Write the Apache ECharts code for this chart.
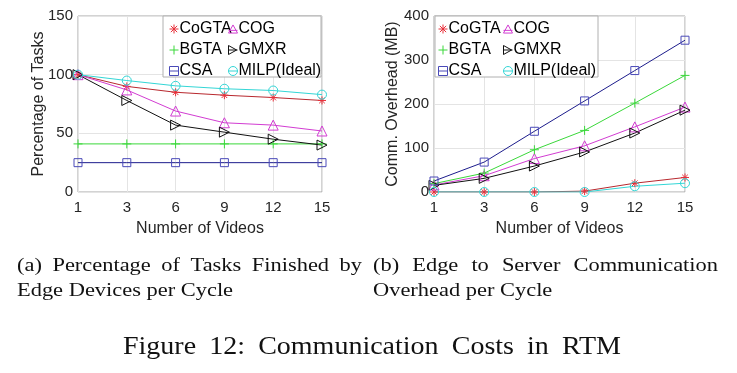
<!DOCTYPE html>
<html>
<head>
<meta charset="utf-8">
<script src="https://cdn.jsdelivr.net/npm/echarts@6/dist/echarts.min.js"></script>
<style>
html,body{margin:0;padding:0;background:#fff;}
#c{width:737px;height:373px;}
</style>
</head>
<body>
<div id="c"></div>
<script>
// ---- data ----
const videos = ['1', '3', '6', '9', '12', '15'];
const seriesNames = ['CoGTA', 'COG', 'BGTA', 'GMXR', 'CSA', 'MILP(Ideal)'];

// (a) Percentage of tasks finished by edge devices
const pctCoGTA = [100, 90, 85, 82.5, 80.5, 78];
const pctCOG   = [100, 87, 69, 59, 57, 52];
const pctBGTA  = [41, 41, 41, 41, 41, 41];
const pctGMXR  = [100, 78, 57, 51, 45, 40];
const pctCSA   = [25, 25, 25, 25, 25, 25];
const pctMILP  = [100, 95, 90.5, 88, 86.5, 83];

// (b) Communication overhead (MB)
const ovhCoGTA = [0, 0, 0, 2, 20, 33];
const ovhCOG   = [16, 37, 76, 105, 148, 193];
const ovhBGTA  = [19, 43, 96, 140, 202, 265];
const ovhGMXR  = [15, 31, 59, 91, 134, 186];
const ovhCSA   = [25, 68, 138, 207, 276, 345];
const ovhMILP  = [0, 0, 0, 0, 13, 20];

const pctTicks = {min: 0, max: 150, interval: 50};
const ovhTicks = {min: 0, max: 400, interval: 100};

// ---- styles ----
const SANS = '"Liberation Sans", Arial, Helvetica, sans-serif';
const SERIF = '"Liberation Serif", "Times New Roman", serif';
const AST = 'path://M5,0L5,10M0,5L10,5M1.5,1.5L8.5,8.5M8.5,1.5L1.5,8.5';
const sty = {
  'CoGTA':       {line: '#b8282e', mark: '#e8303a', sym: AST, icon: AST, size: 8},
  'COG':         {line: '#d23cd2', mark: '#d23cd2', sym: 'path://M5,0L10,9L0,9Z', icon: 'path://M5,0L10,9L0,9ZM0,6L10,6', size: 10},
  'BGTA':        {line: '#3ad83a', mark: '#3ad83a', sym: 'path://M5,0L5,10M0,5L10,5', icon: 'path://M5,0L5,10M0,5L10,5', size: 9},
  'GMXR':        {line: '#111111', mark: '#111111', sym: 'path://M0,0L9,5L0,10Z', icon: 'path://M0,0L9,5L0,10ZM0,5L10,5', size: 10},
  'CSA':         {line: '#1c1c8c', mark: '#4a4ab8', sym: 'rect', icon: 'path://M0,0L10,0L10,10L0,10ZM0,5L10,5', size: 8},
  'MILP(Ideal)': {line: '#33d6d6', mark: '#33d6d6', sym: 'circle', icon: 'path://M10,5A5,5,0,1,1,0,5A5,5,0,1,1,10,5ZM0,5L10,5', size: 9}
};

function mkSeries(name, data, gi) {
  const s = sty[name];
  return {
    name: name, type: 'line', data: data,
    xAxisIndex: gi, yAxisIndex: gi,
    symbol: s.sym, symbolSize: s.size, showSymbol: true,
    lineStyle: {color: s.line, width: 1},
    itemStyle: {color: 'transparent', borderColor: s.mark, borderWidth: 1},
    emphasis: {disabled: true},
    animation: false, z: 3
  };
}

function legendData(names) {
  return names.map(n => ({name: n, icon: sty[n].icon,
    itemStyle: {color: 'transparent', borderColor: sty[n].mark, borderWidth: 1}}));
}

function mkLegend(names, left, top) {
  return {
    data: legendData(names), orient: 'vertical', left: left, top: top,
    itemWidth: 9, itemHeight: 9, itemGap: 5, padding: 0,
    selectedMode: false, z: 6,
    textStyle: {fontFamily: SANS, fontSize: 16, color: '#000', padding: [0, 0, 0, -4]}
  };
}

const grids = [
  {left: 78, top: 16, width: 244, height: 176},
  {left: 434, top: 16, width: 251, height: 176}
];

function xAx(gi) {
  return {
    type: 'category', data: videos, gridIndex: gi, boundaryGap: false,
    name: 'Number of Videos', nameLocation: 'middle', nameGap: 29, nameMoveOverlap: false,
    nameTextStyle: {fontFamily: SANS, fontSize: 16, color: '#262626'},
    axisLine: {show: false}, axisTick: {show: false},
    axisLabel: {fontFamily: SANS, fontSize: 15, color: '#262626', margin: 8},
    splitLine: {show: true, lineStyle: {color: '#e4e4e4', width: 1}}
  };
}
function yAx(gi, ticks, name, gap) {
  return {
    type: 'value', gridIndex: gi, min: ticks.min, max: ticks.max, interval: ticks.interval,
    name: name, nameLocation: 'middle', nameGap: gap, nameMoveOverlap: false,
    nameTextStyle: {fontFamily: SANS, fontSize: 16, color: '#262626'},
    axisLine: {show: false}, axisTick: {show: false},
    axisLabel: {fontFamily: SANS, fontSize: 15, color: '#262626', margin: 5},
    splitLine: {show: true, lineStyle: {color: '#e4e4e4', width: 1}}
  };
}

// caption helpers (text in the reference is horizontally stretched)
const mctx = document.createElement('canvas').getContext('2d');
function justified(words, x0, x1, y, size, sx) {
  const font = size + 'px ' + SERIF;
  mctx.font = font;
  const widths = words.map(w => mctx.measureText(w).width * sx);
  const total = widths.reduce((a, b) => a + b, 0);
  const gap = (x1 - x0 - total) / (words.length - 1);
  const out = [];
  let x = x0;
  words.forEach((w, i) => {
    out.push({type: 'text', x: x, y: y, scaleX: sx, silent: true,
      style: {text: w, font: font, fill: '#111'}});
    x += widths[i] + gap;
  });
  return out;
}
function plain(text, x, y, size, sx) {
  return {type: 'text', x: x, y: y, scaleX: sx, silent: true,
    style: {text: text, font: size + 'px ' + SERIF, fill: '#111'}};
}

const capSize = 19.5, capSX = 1.15;
const graphics = [
  {type: 'rect', shape: {x: 163, y: 16, width: 158, height: 61}, z: 4, silent: true,
    style: {fill: '#fff', stroke: '#b0b0b0', lineWidth: 1}},
  {type: 'rect', shape: {x: 435, y: 16, width: 163, height: 61}, z: 4, silent: true,
    style: {fill: '#fff', stroke: '#b0b0b0', lineWidth: 1}}
].concat(
  justified(['(a)', 'Percentage', 'of', 'Tasks', 'Finished', 'by'], 17, 362, 256, capSize, capSX),
  [plain('Edge Devices per Cycle', 17, 281, capSize, capSX)],
  justified(['(b)', 'Edge', 'to', 'Server', 'Communication'], 373, 718, 256, capSize, capSX),
  [plain('Overhead per Cycle', 373, 281, capSize, capSX)],
  justified(['Figure', '12:', 'Communication', 'Costs', 'in', 'RTM'], 123, 621, 335, 25, 1.12)
);

const chart = echarts.init(document.getElementById('c'), null, {renderer: 'canvas'});
chart.setOption({
  animation: false,
  backgroundColor: '#fff',
  grid: grids.map(g => Object.assign({show: true, borderColor: '#a6a6a6', borderWidth: 1, backgroundColor: 'transparent'}, g)),
  xAxis: [xAx(0), xAx(1)],
  yAxis: [yAx(0, pctTicks, 'Percentage of Tasks', 31), yAx(1, ovhTicks, 'Comm. Overhead (MB)', 33)],
  legend: [
    mkLegend(['CoGTA', 'BGTA', 'CSA'], 169, 21),
    mkLegend(['COG', 'GMXR', 'MILP(Ideal)'], 228, 21),
    mkLegend(['CoGTA', 'BGTA', 'CSA'], 438, 21),
    mkLegend(['COG', 'GMXR', 'MILP(Ideal)'], 503, 21)
  ],
  series: [
    mkSeries('CoGTA', pctCoGTA, 0), mkSeries('COG', pctCOG, 0), mkSeries('BGTA', pctBGTA, 0),
    mkSeries('GMXR', pctGMXR, 0), mkSeries('CSA', pctCSA, 0), mkSeries('MILP(Ideal)', pctMILP, 0),
    mkSeries('CoGTA', ovhCoGTA, 1), mkSeries('COG', ovhCOG, 1), mkSeries('BGTA', ovhBGTA, 1),
    mkSeries('GMXR', ovhGMXR, 1), mkSeries('CSA', ovhCSA, 1), mkSeries('MILP(Ideal)', ovhMILP, 1)
  ],
  graphic: graphics
});
</script>
</body>
</html>
